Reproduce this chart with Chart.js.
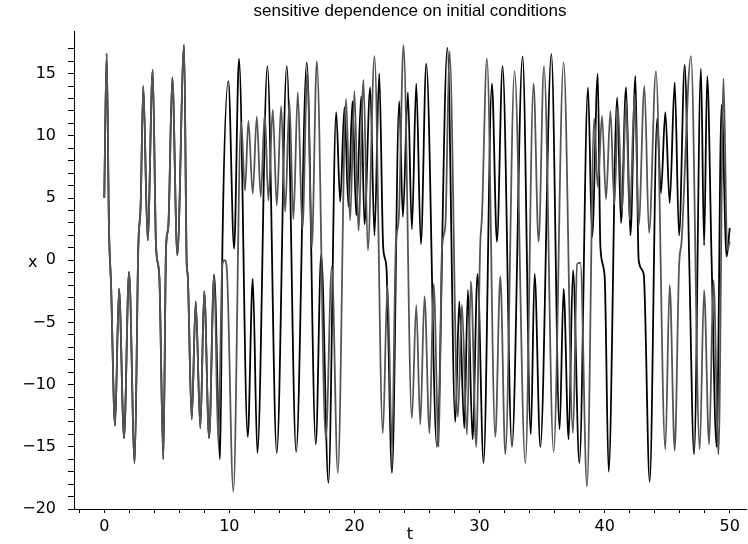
<!DOCTYPE html>
<html>
<head>
<meta charset="utf-8">
<script src="https://cdn.jsdelivr.net/npm/chart.js@4"></script>
<style>
  html, body { margin: 0; padding: 0; background: #fff; }
  canvas { display: block; }
</style>
</head>
<body>
<canvas id="lorenzChart" width="748" height="544"></canvas>
<script>
// both runs coincide until about t = 8.8
const tShared = [0, 0.19, 0.38, 0.54, 0.86, 1.18, 1.58, 1.98, 2.43, 2.72, 2.91, 3.12, 3.47, 3.87, 4.14, 4.4, 4.72, 4.94, 5.12, 5.44, 5.84, 6.38, 6.59, 6.67, 6.99, 7.31, 7.68, 7.99, 8.38, 8.78];
const xShared = [5.0, 16.6, 2.4, -1.9, -13.3, -2.3, -14.3, -0.94, -16.3, 1.07, 4.5, 14.0, 1.6, 15.3, 1.07, -1.3, -16.0, 1.07, 2.7, 14.7, 0.4, 17.3, -0.27, -1.2, -12.8, -3.3, -13.5, -2.5, -14.3, -1.15];

// black run after the split
const tBlack = [9.26, 9.45, 9.92, 10.38, 10.77, 11.47, 11.87, 12.24, 13.04, 13.79, 14.59, 15.34, 16.19, 16.91, 17.34, 17.92, 18.54, 18.86, 19.2, 19.52, 19.84, 20.14, 20.54, 20.8, 21.26, 21.6, 21.98, 22.3, 22.55, 23.0, 23.58, 23.87, 24.27, 24.59, 24.94, 25.31, 25.74, 26.59, 27.43, 28.06, 28.38, 28.78, 29.07, 29.44, 29.84, 30.32, 30.99, 31.39, 31.84, 32.59, 33.44, 34.1, 34.4, 34.86, 35.74, 36.4, 36.72, 37.12, 37.47, 37.98, 38.67, 39.0, 39.45, 39.66, 40.0, 40.32, 41.0, 41.31, 41.71, 42.06, 42.46, 42.72, 43.12,
                43.6, 44.2, 44.5, 44.85, 45.2, 45.6, 45.95, 46.4, 46.75, 47.15, 47.7, 47.95, 48.2, 48.55, 48.95, 49.35, 49.75, 50.0];
const xBlack = [-16.0, 1.5, 14.4, 0.94, 16.2, -14.2, -1.5, -15.5, 15.6, -15.5, 15.6, -15.4, 15.9, -14.8, 0.5, -17.9, 11.9, 4.7, 12.3, 4.3, 12.8, 3.6, 13.2, 2.9, 13.9, 2.0, 15.0, 1.0, -0.5, -17.1, 12.8, 3.5, 13.5, 2.5, 14.2, 1.3, 15.8, -15.0, 17.1, -13.0, -3.3, -13.5, -2.4, -14.4, -1.1, -16.3, 14.2, 1.5, 15.6, -15.0, 16.4, -14.0, -1.1, -15.0, 16.6, -13.6, -2.3, -14.4, -0.8, -16.3, 13.9, 1.9, 15.0, 1.07, -1.3, -17.0, 13.1, 3.0, 13.9, 2.0, 14.8, 0.0, -1.1,
                -17.8, 11.4, 5.4, 11.9, 4.6, 14.3, 2.0, 15.7, 0.5, -15.6, 15.4, 1.2, 14.8, 0.0, -15.0, 12.5, 0.3, 2.6];

// grey run after the split
const tGrey = [9.12, 9.44, 9.62, 9.79, 10.32, 10.94, 11.25, 11.52, 11.87, 12.19, 12.51, 12.83, 13.12, 13.47, 13.79, 14.14, 14.46, 14.8, 15.12, 15.47, 15.84, 16.23, 16.59, 16.99, 17.71, 18.19, 18.67, 19.33, 19.65, 20.0, 20.32, 20.72, 21.07, 21.6, 22.27, 22.64, 23.0, 23.3, 23.55, 23.92, 24.59, 24.94, 25.26, 25.6, 26.0, 26.33, 26.73, 27.0, 27.26, 27.6, 28.27, 28.59, 28.99, 29.31, 29.73, 30.05, 30.19, 30.59, 31.26, 31.66, 32.06, 32.8, 33.66, 34.32, 34.72, 35.15, 35.92, 36.72, 37.47, 37.8, 38.06, 38.59, 39.17, 39.45, 39.79, 40.11, 40.46, 40.78, 41.07, 41.39, 41.71, 42.0, 42.4, 42.72, 43.18,
               43.55, 44.1, 44.85, 45.2, 45.6, 45.95, 46.15, 46.9, 47.6, 47.95, 48.35, 48.7, 49.1, 49.5, 49.8, 50.0];
const xGrey = [-14.8, -0.3, 0.0, -0.6, -18.6, 11.1, 5.6, 11.2, 5.35, 11.55, 5.1, 11.8, 4.8, 12.1, 4.4, 12.4, 3.9, 12.8, 3.3, 13.5, 2.5, 15.2, 1.07, 16.0, -14.4, -0.5, -17.1, 13.0, 3.2, 13.6, 2.4, 14.5, 0.8, 16.4, -13.9, -2.0, -15.0, 1.0, 3.5, 17.3, -12.7, -3.6, -13.2, -2.9, -13.9, -1.9, -15.0, 1.0, 2.7, 16.8, -12.6, -3.6, -14.0, -1.7, -15.0, 1.1, 3.5, 16.2, -14.2, -1.3, -15.6, 15.2, -16.3, 14.2, 1.5, 15.6, -15.4, 15.9, -13.9, -0.3, -0.2, -18.2, 11.4, 5.9, 11.6, 4.9, 12.0, 4.5, 12.3, 3.9, 13.0, 3.2, 13.4, 2.8, 14.0,
               2.2, 15.2, -15.2, -2.0, -15.3, -0.5, 1.5, 16.4, -15.2, -2.4, -14.8, -1.6, -15.6, 14.6, 0.8, 1.5];

const tMin = -2.42, tMax = 51.3;
const xMin = -20, xMax = 18.4;
const tTicks = [-2, 0, 2, 4, 6, 8, 10, 12, 14, 16, 18, 20, 22, 24, 26, 28, 30, 32, 34, 36, 38, 40, 42, 44, 46, 48, 50];

function toPoints(ts, xs) {
    return ts.map((t, i) => ({ x: t, y: xs[i] }));
}

const blackData = toPoints(tShared.concat(tBlack), xShared.concat(xBlack));
const greyData = toPoints(tShared.concat(tGrey), xShared.concat(xGrey));

const fmt = v => (v < 0 ? '\u2212' + Math.abs(v) : String(v));
const tickFont = { family: '"DejaVu Sans", sans-serif', size: 16 };

// the "x" label stands upright beside the 0 tick
const yLabelPlugin = {
    id: 'yLabel',
    afterDraw(chart) {
        const ctx = chart.ctx;
        const y0 = chart.scales.y.getPixelForValue(0);
        ctx.save();
        ctx.font = '16px "DejaVu Sans", sans-serif';
        ctx.fillStyle = '#000';
        ctx.textAlign = 'left';
        ctx.textBaseline = 'middle';
        ctx.fillText('x', 28, y0 + 3);
        ctx.restore();
    }
};

const ctx = document.getElementById('lorenzChart').getContext('2d');
new Chart(ctx, {
    type: 'line',
    data: {
        datasets: [{
            label: 'grey',
            data: greyData,
            borderColor: '#555555',
            borderWidth: 1.8,
            pointRadius: 0,
            cubicInterpolationMode: 'monotone',
            fill: false
        }, {
            label: 'black',
            data: blackData,
            borderColor: '#000000',
            borderWidth: 1.8,
            pointRadius: 0,
            cubicInterpolationMode: 'monotone',
            fill: false
        }]
    },
    options: {
        responsive: false,
        animation: false,
        devicePixelRatio: 1,
        layout: { padding: { left: 0, right: 2, top: 0, bottom: 0 } },
        plugins: {
            legend: { display: false },
            tooltip: { enabled: false },
            title: {
                display: true,
                text: 'sensitive dependence on initial conditions',
                color: '#000',
                fullSize: false,
                font: { family: '"Liberation Sans", Arial, sans-serif', size: 17, weight: 'normal' },
                padding: { top: 1, bottom: 10 }
            }
        },
        scales: {
            x: {
                type: 'linear',
                min: tMin,
                max: tMax,
                border: { display: true, color: '#000', width: 1 },
                grid: { drawOnChartArea: false, drawTicks: true, tickLength: 4, color: '#000' },
                ticks: {
                    autoSkip: false,
                    maxRotation: 0,
                    color: '#000',
                    padding: 4,
                    font: tickFont,
                    callback: v => (v % 10 === 0 && v >= 0 ? fmt(v) : '')
                },
                title: {
                    display: true,
                    text: 't',
                    color: '#000',
                    padding: 0,
                    font: tickFont
                },
                afterBuildTicks: s => { s.ticks = tTicks.map(v => ({ value: v })); },
                afterFit: s => { s.height = 35; }
            },
            y: {
                type: 'linear',
                min: xMin,
                max: xMax,
                border: { display: true, color: '#000', width: 1 },
                grid: { drawOnChartArea: false, drawTicks: true, tickLength: 6, color: '#000' },
                ticks: {
                    stepSize: 1,
                    autoSkip: false,
                    color: '#000',
                    padding: 12,
                    font: tickFont,
                    callback: v => (v % 5 === 0 ? fmt(v) : '')
                },
                afterBuildTicks: s => {
                    s.ticks = s.ticks
                        .filter(t => Math.abs(t.value - Math.round(t.value)) < 1e-6)
                        .map(t => ({ value: Math.round(t.value) }));
                },
                afterFit: s => { s.width = 74; }
            }
        }
    },
    plugins: [yLabelPlugin]
});
</script>
</body>
</html>
